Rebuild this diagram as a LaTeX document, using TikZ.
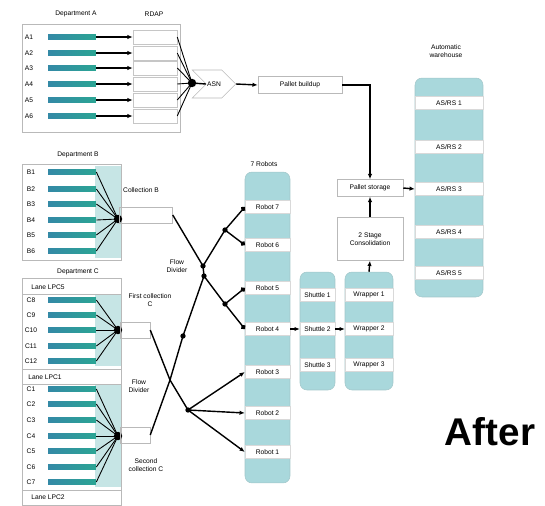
\documentclass[tikz,border=0pt]{standalone}
\usepackage{fontspec}
\setmainfont{Liberation Sans}
\usetikzlibrary{arrows.meta,shapes.symbols}
\definecolor{colteal}{HTML}{A9D8DC}
\definecolor{shadeteal}{HTML}{C6E5E5}
\definecolor{barblue}{HTML}{3489A6}
\definecolor{bargreen}{HTML}{2BA594}
\tikzset{
  lbl/.style={font=\fontsize{3.8}{4.4}\selectfont, inner sep=0.5pt},
  bar/.style={left color=barblue, right color=bargreen, minimum width=0.96cm, minimum height=0.11cm, inner sep=0},
  lane/.style={draw=gray!45, line width=0.3pt, minimum width=0.88cm, minimum height=0.28cm, inner sep=0},
  column/.style={fill=colteal, draw=colteal!80!gray, line width=0.3pt, rounded corners=4pt, inner sep=0},
  strip/.style={lbl, fill=white, draw=gray!30, line width=0.2pt, minimum width=#1, minimum height=0.26cm, inner sep=0},
  box/.style={lbl, draw=gray!55, line width=0.3pt, inner sep=0, align=center},
  frame/.style={draw=gray!55, line width=0.3pt},
  conv/.style={line width=0.5pt},
  conn/.style={line width=0.8pt},
  arr/.style={conn, -{Latex[length=3pt,width=2.5pt]}},
  dotarr/.style={conn, -{Circle[length=2.8pt]}},
}

\begin{document}
\begin{tikzpicture}[x=0.02cm,y=-0.02cm]
\useasboundingbox (0,0) rectangle (545,505);

% department A
\node[lbl] (depA) at (76,14) {Department A};
\node[lbl] (rdap) at (154,14) {RDAP};
\draw[frame] (22,24) rectangle (180,132);
\coordinate (dA) at (192,83);
\node[lbl] (a1) at (29,37) {A1};
\node[bar] (ba1) at (72,37) {};
\node[lane] (la1) at (155,37) {};
\draw[arr] (ba1.east) -- (la1.west);
\draw[conv] (la1.east) -- (dA);
\node[lbl] (a2) at (29,53) {A2};
\node[bar] (ba2) at (72,53) {};
\node[lane] (la2) at (155,53) {};
\draw[arr] (ba2.east) -- (la2.west);
\draw[conv] (la2.east) -- (dA);
\node[lbl] (a3) at (29,68) {A3};
\node[bar] (ba3) at (72,68) {};
\node[lane] (la3) at (155,68) {};
\draw[arr] (ba3.east) -- (la3.west);
\draw[conv] (la3.east) -- (dA);
\node[lbl] (a4) at (29,84) {A4};
\node[bar] (ba4) at (72,84) {};
\node[lane] (la4) at (155,84) {};
\draw[arr] (ba4.east) -- (la4.west);
\draw[conv] (la4.east) -- (dA);
\node[lbl] (a5) at (29,100) {A5};
\node[bar] (ba5) at (72,100) {};
\node[lane] (la5) at (155,100) {};
\draw[arr] (ba5.east) -- (la5.west);
\draw[conv] (la5.east) -- (dA);
\node[lbl] (a6) at (29,116) {A6};
\node[bar] (ba6) at (72,116) {};
\node[lane] (la6) at (155,116) {};
\draw[arr] (ba6.east) -- (la6.west);
\draw[conv] (la6.east) -- (dA);
\fill (dA) circle (2.4pt);

% ASN and pallet line
\node[lbl, shape=signal, signal to=east, signal from=west, draw=gray!55, line width=0.3pt, minimum width=0.72cm, minimum height=0.56cm] (asn) at (214,84) {ASN};
\node[box, minimum width=1.68cm, minimum height=0.34cm] (pbu) at (300,85) {Pallet buildup};
\draw[conn] (dA) -- (asn.west);
\draw[arr] (asn.east) -- (pbu.west);

% department B
\node[lbl] (depB) at (78,155) {Department B};
\fill[shadeteal] (95,166) rectangle (121,258);
\draw[frame] (22,164) rectangle (121,260);
\coordinate (dB) at (118,219);
\node[lbl] (b1) at (31,172) {B1};
\node[bar] (bb1) at (72,172) {};
\draw[conv] (bb1.east) -- (dB);
\node[lbl] (b2) at (31,189) {B2};
\node[bar] (bb2) at (72,189) {};
\draw[conv] (bb2.east) -- (dB);
\node[lbl] (b3) at (31,204) {B3};
\node[bar] (bb3) at (72,204) {};
\draw[conv] (bb3.east) -- (dB);
\node[lbl] (b4) at (31,220) {B4};
\node[bar] (bb4) at (72,220) {};
\draw[conv] (bb4.east) -- (dB);
\node[lbl] (b5) at (31,235) {B5};
\node[bar] (bb5) at (72,235) {};
\draw[conv] (bb5.east) -- (dB);
\node[lbl] (b6) at (31,251) {B6};
\node[bar] (bb6) at (72,251) {};
\draw[conv] (bb6.east) -- (dB);
\fill (dB) circle (2.4pt);
\node[lbl] (colB) at (141,190) {Collection B};
\node[box, minimum width=1.06cm, minimum height=0.32cm] (collB) at (146,215) {};

% department C
\node[lbl] (depC) at (78,272) {Department C};
\fill[shadeteal] (95,295) rectangle (121,366);
\fill[shadeteal] (95,384) rectangle (121,487);
\draw[frame] (22,278) rectangle (121,505);
\draw[frame] (22,294) -- (121,294);
\draw[frame] (22,369) -- (121,369);
\draw[frame] (22,384) -- (121,384);
\draw[frame] (22,490) -- (121,490);
\node[lbl] (lpc5) at (48,287) {Lane LPC5};
\node[lbl] (lpc1) at (45,377) {Lane LPC1};
\node[lbl] (lpc2) at (48,497) {Lane LPC2};
\coordinate (dC1) at (118,330);
\coordinate (dC2) at (118,436);
\node[lbl] (c8) at (31,300) {C8};
\node[bar] (bc8) at (72,300) {};
\draw[conv] (bc8.east) -- (dC1);
\node[lbl] (c9) at (31,315) {C9};
\node[bar] (bc9) at (72,315) {};
\draw[conv] (bc9.east) -- (dC1);
\node[lbl] (c10) at (31,330) {C10};
\node[bar] (bc10) at (72,330) {};
\draw[conv] (bc10.east) -- (dC1);
\node[lbl] (c11) at (31,346) {C11};
\node[bar] (bc11) at (72,346) {};
\draw[conv] (bc11.east) -- (dC1);
\node[lbl] (c12) at (31,361) {C12};
\node[bar] (bc12) at (72,361) {};
\draw[conv] (bc12.east) -- (dC1);
\node[lbl] (c1) at (31,389) {C1};
\node[bar] (bc1) at (72,389) {};
\draw[conv] (bc1.east) -- (dC2);
\node[lbl] (c2) at (31,404) {C2};
\node[bar] (bc2) at (72,404) {};
\draw[conv] (bc2.east) -- (dC2);
\node[lbl] (c3) at (31,420) {C3};
\node[bar] (bc3) at (72,420) {};
\draw[conv] (bc3.east) -- (dC2);
\node[lbl] (c4) at (31,436) {C4};
\node[bar] (bc4) at (72,436) {};
\draw[conv] (bc4.east) -- (dC2);
\node[lbl] (c5) at (31,451) {C5};
\node[bar] (bc5) at (72,451) {};
\draw[conv] (bc5.east) -- (dC2);
\node[lbl] (c6) at (31,467) {C6};
\node[bar] (bc6) at (72,467) {};
\draw[conv] (bc6.east) -- (dC2);
\node[lbl] (c7) at (31,482) {C7};
\node[bar] (bc7) at (72,482) {};
\draw[conv] (bc7.east) -- (dC2);
\fill (dC1) circle (2.4pt);
\fill (dC2) circle (2.4pt);
\node[lbl, align=center] (firstC) at (150,300) {First collection\\C};
\node[lbl, align=center] (secondC) at (146,465) {Second\\collection C};
\node[box, minimum width=0.6cm, minimum height=0.32cm] (collC1) at (135,330) {};
\node[box, minimum width=0.6cm, minimum height=0.32cm] (collC2) at (135,435) {};
\node[lbl, align=center] (fdiv1) at (177,266) {Flow\\Divider};
\node[lbl, align=center] (fdiv2) at (139,386) {Flow\\Divider};

% robots
\node[lbl] (robT) at (264,164) {7 Robots};
\node[column, minimum width=0.9cm, minimum height=6.22cm] (rcol) at (267.5,327.5) {};
\node[strip=0.9cm] (r7) at (267.5,207) {Robot 7};
\node[strip=0.9cm] (r6) at (267.5,245) {Robot 6};
\node[strip=0.9cm] (r5) at (267.5,288) {Robot 5};
\node[strip=0.9cm] (r4) at (267.5,329) {Robot 4};
\node[strip=0.9cm] (r3) at (267.5,372) {Robot 3};
\node[strip=0.9cm] (r2) at (267.5,413) {Robot 2};
\node[strip=0.9cm] (r1) at (267.5,452) {Robot 1};

% flow network
\coordinate (jB) at (203,266);
\coordinate (jBb) at (204,276);
\coordinate (ju) at (225,230);
\coordinate (jd) at (225,304);
\coordinate (jm) at (183,336);
\coordinate (jC) at (170,380);
\coordinate (jL) at (188,410);
\draw[conn] (collB.east) -- (jB) -- (jBb);
\draw[conn] (jB) -- (ju);
\draw[conn] (jBb) -- (jd);
\draw[dotarr] (ju) -- (r7.west);
\draw[dotarr] (ju) -- (r6.west);
\draw[dotarr] (jd) -- (r5.west);
\draw[dotarr] (jd) -- (r4.west);
\draw[conn] (jBb) -- (jm) -- (jC) -- (jL);
\draw[conn] (collC1.east) -- (jC);
\draw[conn] (collC2.east) -- (jC);
\draw[arr] (jL) -- (r3.west);
\draw[arr] (jL) -- (r2.west);
\draw[arr] (jL) -- (r1.west);
\fill (jB) circle (1.5pt);
\fill (jBb) circle (1.5pt);
\fill (ju) circle (1.5pt);
\fill (jd) circle (1.5pt);
\fill (jm) circle (1.5pt);
\fill (jL) circle (1.5pt);

% shuttles and wrappers
\node[column, minimum width=0.7cm, minimum height=2.36cm] (scol) at (317.5,331) {};
\node[strip=0.7cm] (s1) at (317.5,295) {Shuttle 1};
\node[strip=0.7cm] (s2) at (317.5,329) {Shuttle 2};
\node[strip=0.7cm] (s3) at (317.5,365) {Shuttle 3};
\node[column, minimum width=0.96cm, minimum height=2.36cm] (wcol) at (369,331) {};
\node[strip=0.96cm] (w1) at (369,295) {Wrapper 1};
\node[strip=0.96cm] (w2) at (369,329) {Wrapper 2};
\node[strip=0.96cm] (w3) at (369,365) {Wrapper 3};
\draw[arr] (r4.east) -- (s2.west);
\draw[arr] (s2.east) -- (w2.west);

% consolidation and pallet storage
\node[box, minimum width=1.32cm, minimum height=0.86cm] (cons) at (370,239) {2 Stage\\Consolidation};
\node[box, minimum width=1.32cm, minimum height=0.34cm] (pst) at (370,188) {Pallet storage};
\draw[arr] (wcol.north) -- (cons.south);
\draw[arr] (cons.north) -- (pst.south);
\draw[arr] (pbu.east) -| (pst.north);

% AS/RS
\node[lbl, align=center] (asT) at (446,51) {Automatic\\warehouse};
\node[column, minimum width=1.36cm, minimum height=4.38cm] (acol) at (449,187.5) {};
\node[strip=1.36cm] (as1) at (449,103) {AS/RS 1};
\node[strip=1.36cm] (as2) at (449,147) {AS/RS 2};
\node[strip=1.36cm] (as3) at (449,189) {AS/RS 3};
\node[strip=1.36cm] (as4) at (449,232) {AS/RS 4};
\node[strip=1.36cm] (as5) at (449,273) {AS/RS 5};
\draw[arr] (pst.east) -- (as3.west);

\node[font=\fontsize{22}{26}\selectfont\bfseries] (after) at (490,432) {After};
\end{tikzpicture}
\end{document}
